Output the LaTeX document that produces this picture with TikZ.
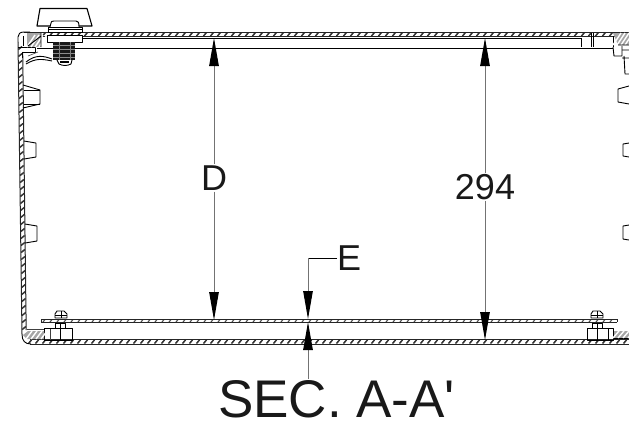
\documentclass[tikz,border=0pt]{standalone}
\usepackage{fontspec}
\setmainfont{Liberation Sans}[Ligatures=TeXOff]
\usetikzlibrary{arrows.meta}
\tikzset{
  outline/.style={draw=black,line width=0.9pt,line join=round},
  thinl/.style={draw=black!75,line width=0.6pt},
  slash/.style={draw=black!80,line width=1.5pt},
  edge/.style={draw=black!85,line width=1pt},
  dimline/.style={draw=black!55,line width=1pt,-{Stealth[length=28pt,width=9.5pt,inset=0pt,black]}},
  leader/.style={draw=black,line width=0.8pt},
  label/.style={font=\fontsize{36}{36}\selectfont,inner sep=1pt,fill=white,text=black!90}
}
\begin{document}
\begin{tikzpicture}[x=1pt,y=-1pt]
\useasboundingbox (0,0) rectangle (629,434);
\begin{scope}
\clip (0,0) rectangle (629,434);
% top wall
\foreach \x in {30,37,...,636}{\draw[slash] (\x-1.5,36) -- (\x+1.5,32.5);}
\draw[edge] (24,32) -- (629,32) (41,36) -- (629,36);
% bottom wall
\foreach \x in {30,37,...,636}{\draw[slash] (\x-1.5,343.5) -- (\x+1.5,340);}
\draw[edge] (30,339.8) -- (629,339.8) (30,344) -- (629,344);
% left wall
\foreach \y in {48,55,...,334}{\pgfmathsetmacro{\xo}{18+(\y-46)*4/288}\draw[slash] (\xo+0.3,\y+1.5) -- (\xo+4,\y-1.5);}
\draw[edge] (18,42) -- (22,334) (22.7,52) -- (26.2,330);
% plate
\foreach \x in {44,51,...,616}{\draw[draw=black!70,line width=1.1pt] (\x-1,322) -- (\x+1,319.5);}
\draw[draw=black!85,line width=0.8pt] (41,319) -- (617,319) (41,322.2) -- (617,322.2) (41,319) -- (41,322.2) (617,319) -- (617,322.2);
% corners
\draw[outline] (18,42) -- (18,37) .. controls (18,34) and (20,32) .. (24,32) -- (30,32);
\draw[outline] (22,334) .. controls (22,341) and (25,344) .. (31,344);
% inner panel lines
\draw[outline] (47,38) -- (581,38);
\draw[draw=black,line width=1.6pt] (37,48.5) -- (613,48.5);
% left top corner
\draw[outline] (23,36) -- (23,46) (27,36) -- (27,47) (18,47) -- (35,47) -- (35,52) -- (22,52) -- (22,58);
\fill[black!35] (27,33) -- (41,33) -- (41,47) -- (27,47) -- cycle;
\foreach \a in {0,4,8,12}{\draw[white,line width=1.4pt] (27+\a,47) -- (35+\a,35);}
\draw[outline] (41,33) -- (41,47) (28,46) -- (41,36);
\draw[outline] (26,62) .. controls (36,54) and (44,56) .. (52,59);
\draw[outline] (26,64) .. controls (36,58) and (42,59) .. (52,61);
\draw[thinl] (28,56) -- (38,52);
% knob
\draw[outline,line width=1.1pt,fill=white] (40,8.5) -- (87,8.5) -- (92,26) -- (37,26) -- cycle;
\draw[outline,fill=white] (50,27) -- (51,23) .. controls (51,21.5) and (52,21) .. (54,21) -- (76,21) .. controls (78,21) and (79,22) .. (79,27);
\draw[outline,fill=white] (48,27) rectangle (82,32);
\draw[outline] (48,29.5) -- (82,29.5);
\draw[outline,fill=white] (47,35) rectangle (82,42);
\fill[black!90] (53,42) rectangle (75,60);
\foreach \yy in {45,49,53,57}{\draw[black!45,line width=0.6pt] (53,\yy) -- (75,\yy);}
\draw[black!50,line width=0.6pt] (59,42) -- (59,60) (70,42) -- (70,60);
\draw[outline,fill=white] (57,60) -- (59,64) .. controls (63,66) and (67,66) .. (71,64) -- (72,60);
\draw[black,line width=1.3pt] (60,62) -- (69,62);
% left brackets
\draw[outline] (23,85) -- (40,90) -- (40,104) -- (23,108);
\draw[outline] (24,90) -- (40,90) (24,104) -- (40,104);
\draw[outline] (24,141) -- (36,143) -- (36,157) -- (24,159);
\draw[outline] (25,224) -- (37,226) -- (37,241) -- (25,243);
% right top
\draw[outline] (581,38) -- (581,47) (591,33) -- (591,47) (593,33) -- (593,47) (613,36) -- (613,47);
\fill[black!35] (613,33) -- (629,33) -- (629,45) -- (618,45) -- cycle;
\foreach \a in {0,4,8,12,16}{\draw[white,line width=1.4pt] (613+\a,45) -- (621+\a,33);}
\draw[outline] (613,47) -- (614,56) -- (622,56) -- (622,46) (618,45) -- (629,45);
\draw[outline] (624,56) -- (625,74) -- (629,74) (622,50) -- (629,50) (622,58) -- (629,58);
% right brackets
\draw[outline] (629,86) -- (618,89) -- (618,102) -- (629,104);
\draw[outline] (629,143) -- (623,144) -- (623,156) -- (629,157);
\draw[outline] (629,225) -- (623,226) -- (623,239) -- (629,240);
% bottom left standoff
\draw[thinl,line width=0.9pt] (27,329) -- (44,329) -- (44,340) (50,329) -- (50,340);
\draw[outline] (44,328) rectangle (72,340);
\draw[outline] (60,328) -- (60,340);
\fill[black!35] (23,335) -- (28,331) -- (44,331) -- (44,339) -- (27,339) -- cycle;
\foreach \a in {0,5,10,15}{\draw[white,line width=1.4pt] (26+\a,339) -- (32+\a,331);}
% bolt left
\draw[outline,fill=white] (55,323) rectangle (65,328);
\draw[outline] (60,323) -- (60,328);
\draw[outline,fill=white] (55,318) -- (55,314) -- (57,311) -- (64,311) -- (67,314) -- (67,318) -- cycle;
\draw[outline] (55,315) -- (67,315) (61,311) -- (61,318);
% bottom right standoff
\draw[outline] (587,328) rectangle (613,340);
\draw[outline] (597,328) -- (597,340) (608,328) -- (608,340);
\draw[outline] (613,331) -- (629,331) (613,338) -- (629,338);
\fill[black!35] (614,331) rectangle (629,338);
\foreach \a in {0,5,10,15}{\draw[white,line width=1.4pt] (613+\a,338) -- (619+\a,331);}
% bolt right
\draw[outline,fill=white] (592,323) rectangle (602,328);
\draw[outline] (597,323) -- (597,328);
\draw[outline,fill=white] (591,318) -- (591,314) -- (593,311) -- (600,311) -- (603,314) -- (603,318) -- cycle;
\draw[outline] (591,315) -- (603,315) (597,311) -- (597,318);
\end{scope}
% dimensions
\coordinate (dtop) at (214,38);
\coordinate (dbot) at (214,320);
\coordinate (ntop) at (485,38);
\coordinate (nbot) at (485,340);
\coordinate (eelbow) at (308,258);
\coordinate (etip) at (308,319);
\coordinate (ftip) at (308,322);
\coordinate (ftail) at (308,379);
\node[label] (dlab) at (214,178) {D};
\node[label] (nlab) at (485,187) {294};
\node[label,fill=none,anchor=west,inner sep=0pt] (elab) at (337,258) {E};
\node[font=\fontsize{53}{53}\selectfont,text=black!90,inner sep=0pt] (sec) at (336.5,399) {SEC. A-A'};
\draw[dimline] (dlab) -- (dtop);
\draw[dimline] (dlab) -- (dbot);
\draw[dimline] (nlab) -- (ntop);
\draw[dimline] (nlab) -- (nbot);
\draw[leader] (elab.west) -- (eelbow);
\draw[dimline] (eelbow) -- (etip);
\draw[dimline] (ftail) -- (ftip);
\end{tikzpicture}
\end{document}
